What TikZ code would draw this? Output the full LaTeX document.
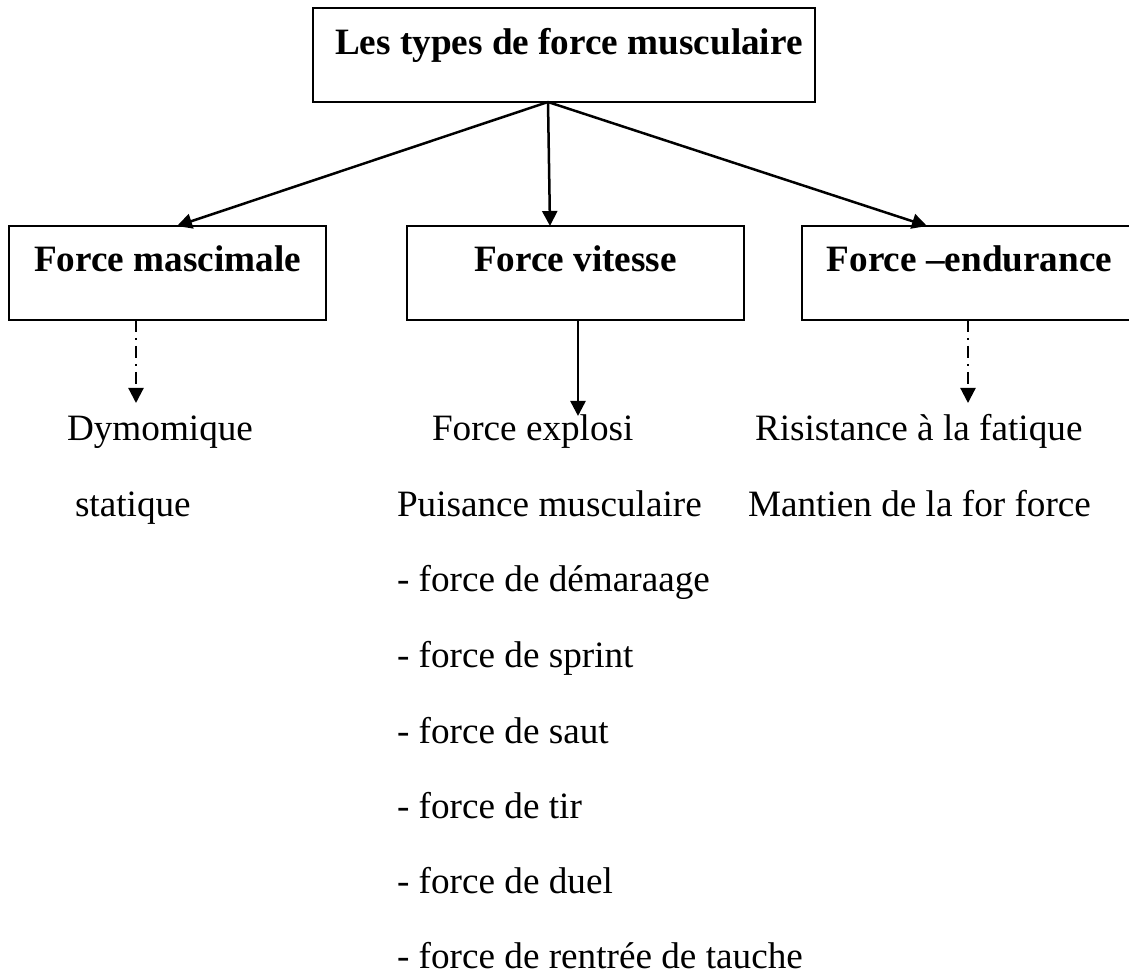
\documentclass[tikz,border=0pt]{standalone}
\usepackage{fontspec}
\setmainfont{Liberation Serif}
\usetikzlibrary{arrows.meta,calc}
\begin{document}
\begin{tikzpicture}[x=0.5pt,y=-0.5pt,
  every node/.style={font=\fontsize{18.6}{22}\selectfont, inner sep=0pt, outer sep=0pt},
  box/.style={draw, line width=1.1pt, rectangle, inner sep=0pt, text height=23pt, text depth=24pt,
    anchor=north west, font=\fontsize{18.6}{22}\selectfont\bfseries},
  txt/.style={anchor=base west},
  arr/.style={line width=1.25pt, -{Triangle[length=7.5pt,width=7.5pt]}},
  darr/.style={arr, line width=1.1pt, dash pattern=on 6pt off 3pt on 1pt off 3pt}
]
\useasboundingbox (0,0) rectangle (1129,977);
\clip (0,0) rectangle (1129,977);

% boxes
\node[box, text height=23.5pt, text depth=23.5pt] (top) at (313,8)
  {\makebox[251pt][l]{\hspace*{11pt}Les types de force musculaire}};
\node[box, minimum width=158.5pt] (lb) at (9,226) {Force mascimale};
\node[box, minimum width=168.5pt] (mb) at (407,226) {Force vitesse};
\node[box, minimum width=167.5pt] (rb) at (802,226) {Force –endurance};

% texts
\node[txt] (dym) at (67,441) {Dymomique};
\node[txt] (stat) at (75,517) {statique};
\node[txt] (fe) at (432,441) {Force explosi};
\node[txt] (pm) at (397,517) {Puisance musculaire};
\node[txt] (l1) at (397,592) {- force de démaraage};
\node[txt] (l2) at (397,668) {- force de sprint};
\node[txt] (l3) at (397,743) {- force de saut};
\node[txt] (l4) at (397,818) {- force de tir};
\node[txt] (l5) at (397,893) {- force de duel};
\node[txt] (l6) at (397,968) {- force de rentrée de tauche};
\node[txt] (rf) at (755,441) {Risistance à la fatique};
\node[txt] (mf) at (748,517) {Mantien de la for force};

% connectors
\coordinate (o) at ($(top.south west)+(235,0)$);
\draw[arr] (o) -- ($(lb.north west)+(168,0)$);
\draw[arr] (o) -- ($(mb.north west)+(143,0)$);
\draw[arr] (o) -- ($(rb.north west)+(125,0)$);

\coordinate (d1) at (136,403);
\coordinate (d2) at (578,416);
\coordinate (d3) at (968,403);
\draw[darr] (lb.south west -| d1) -- (d1);
\draw[arr] (mb.south west -| d2) -- (d2);
\draw[darr] (rb.south west -| d3) -- (d3);
\end{tikzpicture}
\end{document}
